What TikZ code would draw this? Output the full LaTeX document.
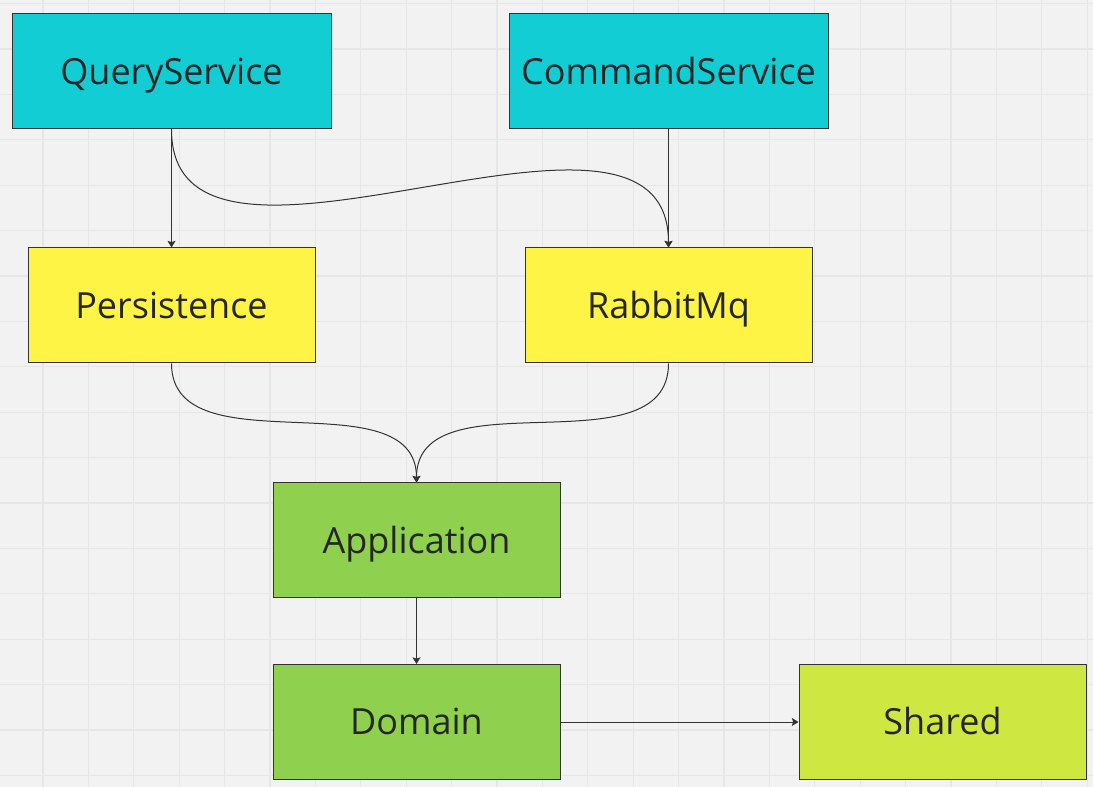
\documentclass[tikz,border=0pt]{standalone}
\usepackage{fontspec}
\setmainfont{Open Sans}
\usetikzlibrary{arrows.meta}

\definecolor{bg}{HTML}{F2F2F2}
\definecolor{gridc}{HTML}{E6E6E6}
\definecolor{edgec}{HTML}{333333}
\definecolor{svc}{HTML}{13CDD4}
\definecolor{infra}{HTML}{FEF445}
\definecolor{core}{HTML}{8FD14F}
\definecolor{shrd}{HTML}{CEE741}

\begin{document}
\begin{tikzpicture}[x=0.75pt,y=-0.75pt,
  box/.style={draw=edgec,line width=0.75pt,rectangle,minimum height=86.25pt,text height=19.3pt,text depth=0pt,text=black!85,font=\fontsize{27pt}{32pt}\selectfont},
  wide/.style={box,minimum width=239.25pt},
  narrow/.style={box,minimum width=215.25pt},
  link/.style={draw=edgec,line width=0.75pt,-{Stealth[length=5pt,width=6pt,inset=1pt]}}]

\useasboundingbox (0,0) rectangle (1093,787);
\fill[bg] (0,0) rectangle (1093,787);
\foreach \i in {0,...,24} \draw[gridc,line width=0.9pt] (\i*45.4-2.4,0) -- (\i*45.4-2.4,787);
\foreach \j in {0,...,17} \draw[gridc,line width=0.9pt] (0,\j*45.4+3.6) -- (1093,\j*45.4+3.6);

\node (query) at (171.5,71.5) [wide,fill=svc] {QueryService};
\node (command) at (668.5,71.5) [wide,fill=svc] {CommandService};

\node (persist) at (171.5,305.5) [narrow,fill=infra] {Persistence};
\node (rabbit) at (668.5,305.5) [narrow,fill=infra] {RabbitMq};

\node (app) at (416.5,540.5) [narrow,fill=core] {Application};
\node (domain) at (416.5,722) [narrow,fill=core] {Domain};
\node (shared) at (942.5,722) [narrow,fill=shrd] {Shared};

\draw [link] (query) -- (persist);
\draw [link] (query.south) to[out=-90,in=90] (rabbit.north);
\draw [link] (command) -- (rabbit);
\draw [link] (persist.south) to[out=-90,in=90] (app.north);
\draw [link] (rabbit.south) to[out=-90,in=90] (app.north);
\draw [link] (app) -- (domain);
\draw [link] (domain) -- (shared);

\end{tikzpicture}
\end{document}
